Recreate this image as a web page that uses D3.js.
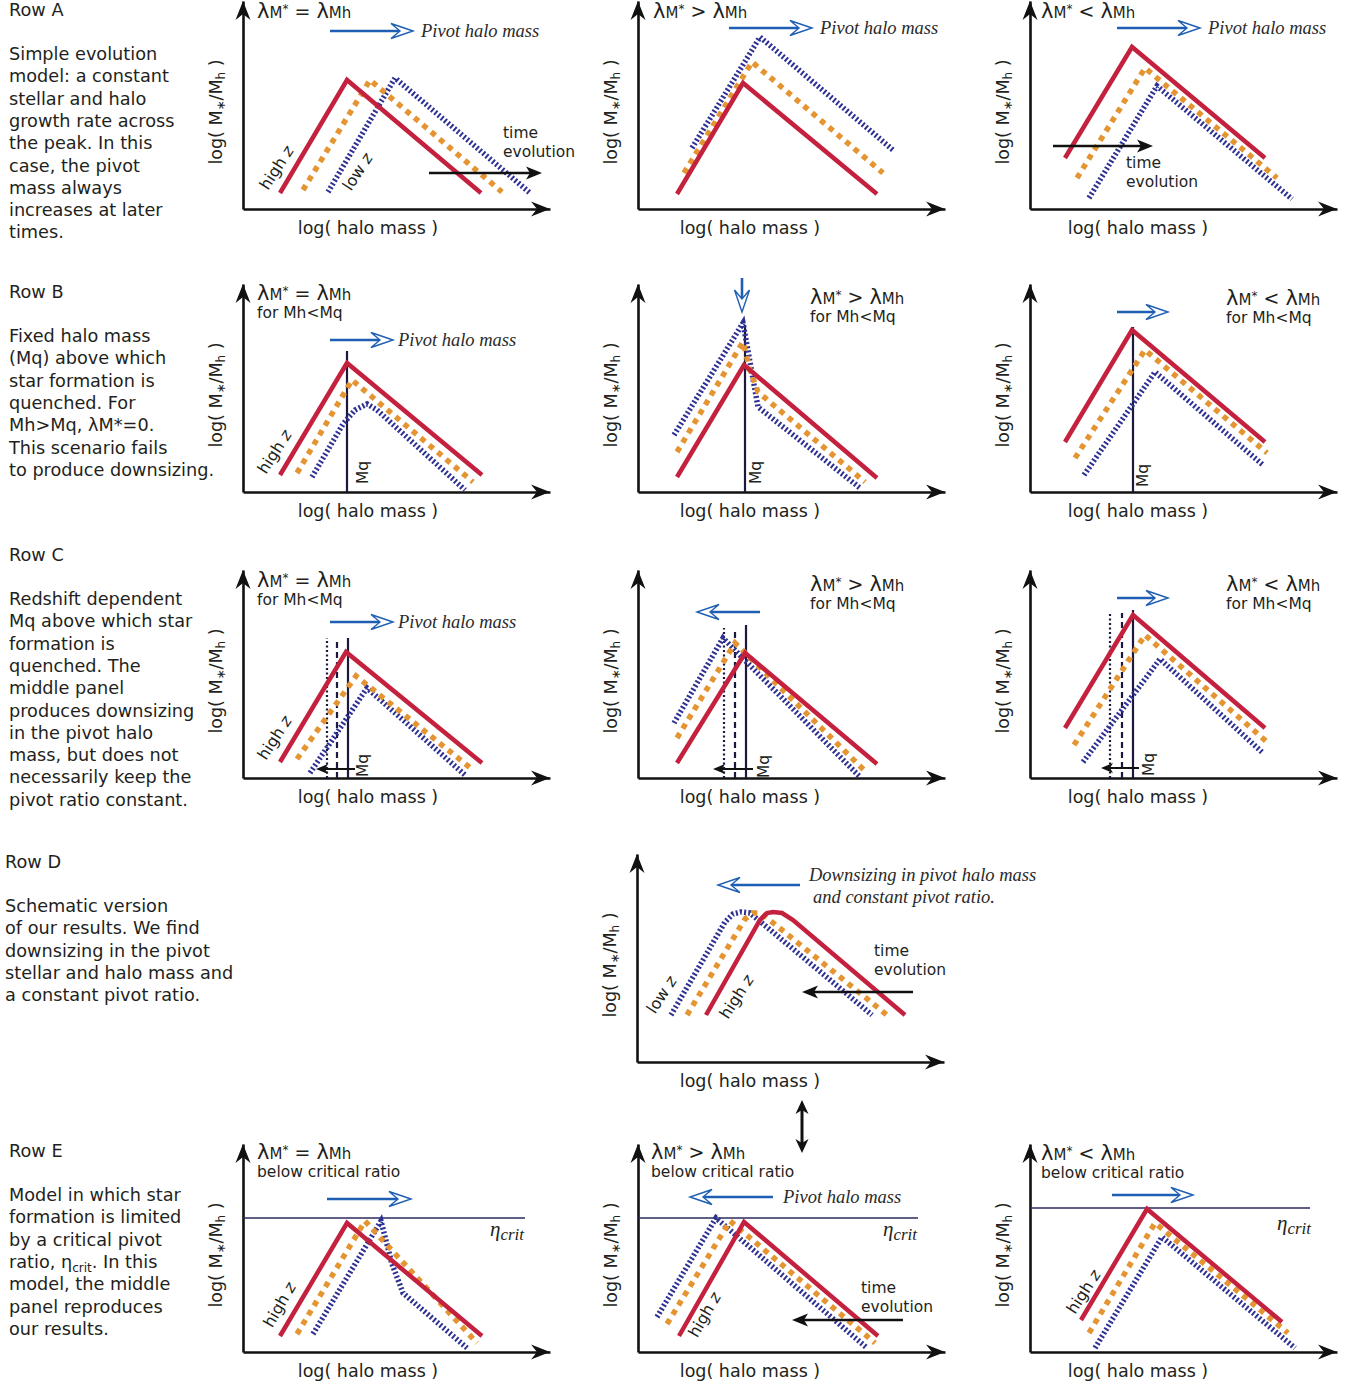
<!DOCTYPE html>
<html><head><meta charset="utf-8">
<script src="https://cdn.jsdelivr.net/npm/d3@7"></script>
<style>body{margin:0;background:#fff} svg{display:block}</style>
</head><body><svg id="chart" width="1356" height="1390"></svg>
<script>
// ---------------- data (schematic units: x = log halo mass offset, y = log(M*/Mh) offset) ----------------
const panelIds     = ['A1','A2','A3','B1','B2','B3','C1','C2','C3','D2','E1','E2','E3'];
const panelOriginX = [243,638,1030,243,638,1030,243,638,1030,637,243,638,1030];
const panelOriginY = [209,209,209,492,492,492,778,778,778,1062,1352,1352,1352];
const xDomain = [0,307];
const yDomain = [0,208];
const xLabelCenter = [125,112,108,125,112,108,125,112,108,113,125,112,108];

// high z (red solid)
const highZLine = [
  [[37,16],[104,129],[238,16]],
  [[39,15],[105,126],[239,15]],
  [[35,51],[102,162],[235,51]],
  [[37,17],[104,129],[239,17]],
  [[39,15],[106,127],[239,14]],
  [[35,50],[102,162],[235,50]],
  [[37,16],[103,126],[239,15]],
  [[39,15],[107,125],[239,14]],
  [[35,50],[103,163],[235,50]],
  [[69,47],[123,142],[130,149],[136,150],[145,149],[156,142],[268,47]],
  [[37,16],[104,129],[239,16]],
  [[41,16],[106,130],[240,16]],
  [[51,32],[117,143],[252,30]]
];
// intermediate z (orange dotted)
const midZLine = [
  [[60,19],[127,129],[259,17]],
  [[46,36],[114,147],[245,36]],
  [[47,31],[115,141],[247,31]],
  [[54,19],[109,112],[230,10]],
  [[39,40],[105,150],[112,122],[120,100],[227,10]],
  [[45,34],[115,142],[237,39]],
  [[54,19],[113,102],[230,8]],
  [[39,40],[97,135],[227,7]],
  [[44,33],[115,143],[237,36]],
  [[50,47],[108,143],[116,149],[124,149],[250,47]],
  [[54,18],[122,131],[234,9]],
  [[29,28],[92,131],[237,9]],
  [[59,19],[125,129],[258,19]]
];
// low z (blue dotted)
const lowZLine = [
  [[85,17],[152,131],[287,16]],
  [[54,61],[122,172],[255,59]],
  [[59,11],[127,123],[262,10]],
  [[69,15],[100,68],[112,82],[124,88],[134,82],[222,2]],
  [[36,57],[105,169],[112,130],[120,85],[222,4]],
  [[54,17],[125,120],[233,27]],
  [[67,5],[124,90],[222,3]],
  [[36,55],[85,140],[221,2]],
  [[53,16],[130,119],[233,25]],
  [[34,47],[88,140],[96,148],[104,150],[113,149],[235,47]],
  [[70,18],[138,131],[149,88],[160,59],[224,4]],
  [[19,35],[78,134],[229,4]],
  [[65,4],[132,115],[265,4]]
];

// quenching masses Mq: [x, height]
const mqNow   = [null,null,null,[104,141],[107,167],[103,165],[105,140],[108,153],[103,168],null,null,null,null];
const mqMid   = [null,null,null,null,null,null,[94,140],[97,150],[92,165],null,null,null,null];
const mqEarly = [null,null,null,null,null,null,[84,140],[86,150],[80,165],null,null,null,null];
const mqLabel = [null,null,null,[125,8],[123,8],[118,5],[125,1],[131,0],[124,2],null,null,null,null];
// critical ratio level
const etaCrit = [null,null,null,null,null,null,null,null,null,null,[134,282],[134,280],[144,280]];
const etaLabel= [null,null,null,null,null,null,null,null,null,null,[247,116],[245,116],[247,122]];

// panel titles
const titleOp  = ['=','>','<','=','>','<','=','>','<',null,'=','>','<'];
const titleSub = [null,null,null,'for Mh<Mq','for Mh<Mq','for Mh<Mq','for Mh<Mq','for Mh<Mq','for Mh<Mq',null,
                  'below critical ratio','below critical ratio','below critical ratio'];
const titlePos = [[14,191],[15,191],[11,191],[14,192],[172,188],[196,187],[14,191],[172,187],[196,187],null,[14,193],[13,193],[11,192]];

// pivot-halo-mass arrows: [from, to]
const pivotArrow = [
  [[87,178],[170,178]], [[91,181],[174,181]], [[87,181],[170,181]],
  [[87,152],[150,152]], [[104,214],[104,180]], [[87,180],[138,180]],
  [[87,156],[150,156]], [[122,166],[59,166]], [[87,180],[138,180]],
  [[163,177],[81,177]],
  [[84,153],[168,153]], [[135,155],[52,155]], [[82,157],[163,157]]
];
const pivotText = [[178,172],[182,175],[178,175],[155,146],null,null,[155,150],null,null,null,null,[145,149],null];

// time-evolution arrows
const timeArrow = [
  [[186,36],[299,36]], null, [[23,63],[123,63]],
  null, null, null,
  [[112,9],[73,9]], [[115,9],[75,9]], [[109,10],[71,10]],
  [[276,70],[165,70]],
  null, [[265,32],[154,32]], null
];
const timeText = [[260,71],null,[96,41],null,null,null,null,null,null,[237,106],null,[223,59],null];

// redshift labels: [text, x, y, angle]
const zLabels = [
  [['high',34,41,-57],['low',115,37,-57]], null, null,
  [['high',32,40,-57]], null, null,
  [['high',32,40,-57]], null, null,
  [['low',25,67,-57],['high',100,65,-57]],
  [['high',37,47,-60]], [['high',67,37,-60]], [['high',54,60,-57]]
];

// left-hand descriptions
const rowNames = ['Row A','Row B','Row C','Row D','Row E'];
const rowLabelX = [9,9,9,5,9];
const rowLabelY = [16,298,561,868,1157];
const rowText = [
  ['Simple evolution','model: a constant','stellar and halo','growth rate across','the peak. In this','case, the pivot','mass always','increases at later','times.'],
  ['Fixed halo mass','(Mq) above which','star formation is','quenched. For','Mh>Mq, λM*=0.','This scenario fails','to produce downsizing.'],
  ['Redshift dependent','Mq above which star','formation is','quenched. The','middle panel','produces downsizing','in the pivot halo','mass, but does not','necessarily keep the','pivot ratio constant.'],
  ['Schematic version','of our results. We find','downsizing in the pivot','stellar and halo mass and','a constant pivot ratio.'],
  ['Model in which star','formation is limited','by a critical pivot','ratio, η_crit. In this','model, the middle','panel reproduces','our results.']
];
const downsizingNote = ['Downsizing in pivot halo mass','and constant pivot ratio.'];

// ---------------- drawing ----------------
const SANS = "'DejaVu Sans', Verdana, sans-serif";
const SERIF = "'Liberation Serif', 'Times New Roman', serif";
const RED = '#c4213f', ORANGE = '#e49532', BLUE = '#2e3192', ABLUE = '#1f5fb3', INK = '#231f20', NAVY = '#1b1a3e';

const svg = d3.select('#chart');

// left text
rowNames.forEach((name, r) => {
  const g = svg.append('g').attr('font-family', SANS).attr('font-size', 17.7).attr('fill', INK);
  g.append('text').attr('x', rowLabelX[r]).attr('y', rowLabelY[r]).text(name);
  rowText[r].forEach((line, k) => {
    const t = g.append('text').attr('x', rowLabelX[r]).attr('y', rowLabelY[r] + 44 + k * 22.3);
    if (line.includes('_crit')) {
      const parts = line.split('_crit');
      t.append('tspan').text(parts[0]);
      t.append('tspan').attr('font-size', 12).attr('dy', 4).text('crit');
      t.append('tspan').attr('dy', -4).text(parts[1]);
    } else t.text(line);
  });
});

function arrowHead(g, x2, y2, ang, d, fill, stroke, sw) {
  g.append('path').attr('d', d)
    .attr('transform', `translate(${x2},${y2}) rotate(${ang})`)
    .attr('fill', fill).attr('stroke', stroke || 'none').attr('stroke-width', sw || 0);
}

function drawArrow(g, p1, p2, kind) {
  const ang = Math.atan2(p2[1] - p1[1], p2[0] - p1[0]);
  const deg = ang * 180 / Math.PI;
  if (kind === 'blue') {
    const back = 13;
    g.append('line').attr('x1', p1[0]).attr('y1', p1[1])
      .attr('x2', p2[0] - back * Math.cos(ang)).attr('y2', p2[1] - back * Math.sin(ang))
      .attr('stroke', ABLUE).attr('stroke-width', 2.6);
    arrowHead(g, p2[0], p2[1], deg, 'M0,0 L-22,-7.5 L-13,0 L-22,7.5 Z', '#fff', ABLUE, 1.4);
  } else {
    const small = kind === 'small';
    const back = small ? 8 : 10;
    g.append('line').attr('x1', p1[0]).attr('y1', p1[1])
      .attr('x2', p2[0] - back * Math.cos(ang)).attr('y2', p2[1] - back * Math.sin(ang))
      .attr('stroke', '#111').attr('stroke-width', small ? 2 : 2.6);
    arrowHead(g, p2[0], p2[1], deg, small ? 'M0,0 L-12,-5 L-9,0 L-12,5 Z' : 'M0,0 L-16,-6.5 L-12,0 L-16,6.5 Z', '#111');
  }
}

panelIds.forEach((id, i) => {
  const x0 = panelOriginX[i], y0 = panelOriginY[i];
  const x = d3.scaleLinear().domain(xDomain).range([x0, x0 + xDomain[1]]);
  const y = d3.scaleLinear().domain(yDomain).range([y0, y0 - yDomain[1]]);
  const g = svg.append('g').attr('class', 'panel-' + id);

  // axes (no ticks), with arrowheads
  const ax = g.append('g').attr('transform', `translate(0,${y0})`)
    .call(d3.axisBottom(x).tickValues([]).tickSizeOuter(0));
  ax.select('.domain').attr('stroke', '#111').attr('stroke-width', 2.6);
  const ay = g.append('g').attr('transform', `translate(${x0},0)`)
    .call(d3.axisLeft(y).tickValues([]).tickSizeOuter(0));
  ay.select('.domain').attr('stroke', '#111').attr('stroke-width', 2.6);
  const headD = 'M0,0 L-19,-7.5 L-13,0 L-19,7.5 Z';
  arrowHead(g, x(xDomain[1]), y(0), 0, headD, '#111');
  arrowHead(g, x(0), y(yDomain[1]), -90, headD, '#111');

  // axis labels
  g.append('text').attr('x', x(xLabelCenter[i])).attr('y', y(0) + 25).attr('text-anchor', 'middle')
    .attr('font-family', SANS).attr('font-size', 17.5).attr('fill', INK).text('log( halo mass )');
  const yl = g.append('text').attr('transform', `translate(${x(0) - 21},${y(97)}) rotate(-90)`)
    .attr('text-anchor', 'middle').attr('font-family', SANS).attr('font-size', 17.5).attr('fill', INK);
  yl.append('tspan').text('log( M');
  yl.append('tspan').attr('font-size', 12).attr('dy', 3).text('∗');
  yl.append('tspan').attr('dy', -3).text('/M');
  yl.append('tspan').attr('font-size', 12).attr('dy', 3).text('h');
  yl.append('tspan').attr('dy', -3).text(' )');

  // titles
  if (titleOp[i]) {
    const [tx, ty] = titlePos[i];
    const t = g.append('text').attr('x', x(tx)).attr('y', y(ty)).attr('font-family', SANS).attr('fill', INK);
    t.append('tspan').attr('font-size', 21).text('λ');
    t.append('tspan').attr('font-size', 15).text('M');
    t.append('tspan').attr('font-size', 12).attr('dy', -5).text('*');
    t.append('tspan').attr('font-size', 19).attr('dy', 5).text(' ' + titleOp[i] + ' ');
    t.append('tspan').attr('font-size', 21).text('λ');
    t.append('tspan').attr('font-size', 15).text('Mh');
    if (titleSub[i]) {
      g.append('text').attr('x', x(tx)).attr('y', y(ty - 18)).attr('font-family', SANS)
        .attr('font-size', 15.5).attr('fill', INK).text(titleSub[i]);
    }
  }

  // critical ratio
  if (etaCrit[i]) {
    g.append('line').attr('x1', x(0)).attr('x2', x(etaCrit[i][1]))
      .attr('y1', y(etaCrit[i][0])).attr('y2', y(etaCrit[i][0]))
      .attr('stroke', '#2b2a5e').attr('stroke-width', 1.6);
    const et = g.append('text').attr('x', x(etaLabel[i][0])).attr('y', y(etaLabel[i][1]))
      .attr('font-family', SERIF).attr('font-style', 'italic').attr('fill', INK);
    et.append('tspan').attr('font-size', 21).text('η');
    et.append('tspan').attr('font-size', 17).attr('dy', 4).text('crit');
  }

  // Mq lines
  const mqStyles = [[mqEarly, '2,2.5'], [mqMid, '6,4'], [mqNow, null]];
  mqStyles.forEach(([arr, dash]) => {
    if (!arr[i]) return;
    const l = g.append('line').attr('x1', x(arr[i][0])).attr('x2', x(arr[i][0]))
      .attr('y1', y(0)).attr('y2', y(arr[i][1]))
      .attr('stroke', NAVY).attr('stroke-width', 2.2);
    if (dash) l.attr('stroke-dasharray', dash);
  });

  // curves
  const line = d3.line().x(d => x(d[0])).y(d => y(d[1])).curve(d3.curveLinear);
  g.append('path').attr('d', line(lowZLine[i])).attr('fill', 'none')
    .attr('stroke', BLUE).attr('stroke-width', 5.5).attr('stroke-dasharray', '2,2.2');
  g.append('path').attr('d', line(midZLine[i])).attr('fill', 'none')
    .attr('stroke', ORANGE).attr('stroke-width', 5.5).attr('stroke-dasharray', '5.5,5.5');
  g.append('path').attr('d', line(highZLine[i])).attr('fill', 'none')
    .attr('stroke', RED).attr('stroke-width', 4.5).attr('stroke-linejoin', 'miter');

  // Mq label
  if (mqLabel[i]) {
    g.append('text').attr('transform', `translate(${x(mqLabel[i][0])},${y(mqLabel[i][1])}) rotate(-90)`)
      .attr('font-family', SANS).attr('font-size', 15.5).attr('fill', INK).text('Mq');
  }

  // pivot arrow + label
  const pa = pivotArrow[i];
  drawArrow(g, [x(pa[0][0]), y(pa[0][1])], [x(pa[1][0]), y(pa[1][1])], 'blue');
  if (pivotText[i]) {
    g.append('text').attr('x', x(pivotText[i][0])).attr('y', y(pivotText[i][1]))
      .attr('font-family', SERIF).attr('font-style', 'italic').attr('font-size', 18.5)
      .attr('fill', '#2a2a2a').text('Pivot halo mass');
  }
  if (id === 'D2') {
    downsizingNote.forEach((s, k) => {
      g.append('text').attr('x', x(172 + k * 4)).attr('y', y(181 - k * 22))
        .attr('font-family', SERIF).attr('font-style', 'italic').attr('font-size', 18.5)
        .attr('fill', '#2a2a2a').text(s);
    });
    // double arrow linking D and E
    const ax1 = x(165), ya = y(-38), yb = y(-91);
    g.append('line').attr('x1', ax1).attr('x2', ax1).attr('y1', ya + 10).attr('y2', yb - 10)
      .attr('stroke', '#111').attr('stroke-width', 3);
    arrowHead(g, ax1, ya, -90, 'M0,0 L-14,-6.5 L-10,0 L-14,6.5 Z', '#111');
    arrowHead(g, ax1, yb, 90, 'M0,0 L-14,-6.5 L-10,0 L-14,6.5 Z', '#111');
  }

  // time arrows
  if (timeArrow[i]) {
    const ta = timeArrow[i];
    drawArrow(g, [x(ta[0][0]), y(ta[0][1])], [x(ta[1][0]), y(ta[1][1])], timeText[i] ? 'big' : 'small');
  }
  if (timeText[i]) {
    ['time', 'evolution'].forEach((s, k) => {
      g.append('text').attr('x', x(timeText[i][0])).attr('y', y(timeText[i][1] - k * 18.5))
        .attr('font-family', SANS).attr('font-size', 15.5).attr('fill', INK).text(s);
    });
  }

  // redshift labels
  if (zLabels[i]) {
    zLabels[i].forEach(([w, lx, ly, a]) => {
      const t = g.append('text').attr('transform', `translate(${x(lx)},${y(ly)}) rotate(${a})`)
        .attr('text-anchor', 'middle').attr('dy', 5).attr('font-family', SANS).attr('font-size', 16).attr('fill', INK);
      t.append('tspan').text(w + ' ');
      t.append('tspan').attr('font-style', 'italic').text('z');
    });
  }
});
</script></body></html>
